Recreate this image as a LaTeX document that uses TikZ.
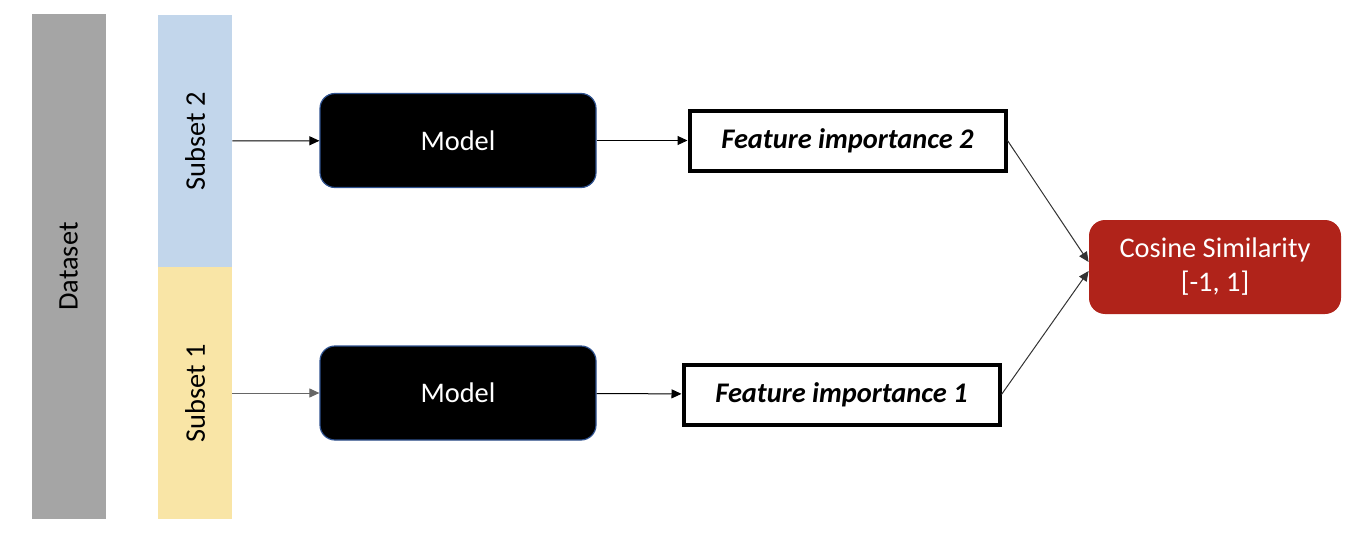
\documentclass[tikz,border=0pt]{standalone}
\usepackage{fontspec}
\setmainfont{Carlito}
\usepackage{graphicx}
\usetikzlibrary{arrows.meta}
\definecolor{datagray}{HTML}{A5A5A5}
\definecolor{subblue}{HTML}{C2D6EB}
\definecolor{subyellow}{HTML}{F9E5A6}
\definecolor{modelblue}{HTML}{2F528F}
\definecolor{cosred}{HTML}{B0231A}
\begin{document}
\begin{tikzpicture}[x=0.5pt,y=-0.5pt]
		\begin{scope}[scale=1]
		
		\tikzstyle{mybar}=[rectangle,
		draw=none,
		inner sep=0pt,
		minimum width=37pt,
		font=\fontsize{14.2}{17}\selectfont
		]
		\tikzstyle{mymodel}=[rectangle,
		rounded corners=7.5pt,
		draw=modelblue,
		line width=0.6pt,
		fill=black,
		text=white,
		minimum width=138pt,
		minimum height=47pt,
		font=\fontsize{14.2}{17}\selectfont
		]
		\tikzstyle{myfeature}=[rectangle,
		draw=black,
		line width=2pt,
		fill=white,
		minimum width=158pt,
		minimum height=30pt,
		font=\fontsize{14.2}{17}\selectfont\bfseries\itshape
		]
		\tikzstyle{mycosine}=[rectangle,
		rounded corners=8pt,
		fill=cosred,
		text=white,
		align=center,
		minimum width=126pt,
		minimum height=47pt,
		font=\fontsize{14.2}{17}\selectfont
		]
		\tikzstyle{myarrow}=[line width=0.5pt,
		-{Triangle[length=5pt,width=4.5pt]}
		]
		
		\useasboundingbox (0,0) rectangle (1372,546);
		
		\coordinate (pd) at (68.5, 266.5);
		\coordinate (ps2) at (195, 141);
		\coordinate (ps1) at (195, 393);
		
		\coordinate (pm2) at (458, 140.5);
		\coordinate (pm1) at (458, 393);
		
		\coordinate (pf2) at (847.5, 140.5);
		\coordinate (pf1) at (841.5, 394.5);
		
		\coordinate (pc) at (1215, 267);
		
		\node[mybar, fill=datagray, minimum height=252.5pt] (data) at (pd) {\rotatebox{90}{Dataset}};
		\node[mybar, fill=subblue, minimum height=126pt] (sub2) at (ps2) {\rotatebox{90}{Subset 2}};
		\node[mybar, fill=subyellow, minimum height=126pt] (sub1) at (ps1) {\rotatebox{90}{Subset 1}};
		
		\node[mymodel] (model2) at (pm2) {Model};
		\node[mymodel] (model1) at (pm1) {Model};
		
		\node[myfeature] (feat2) at (pf2) {Feature importance 2};
		\node[myfeature] (feat1) at (pf1) {Feature importance 1};
		
		\node[mycosine] (cos) at (pc) {Cosine Similarity\\{}[-1, 1]};
		
		\draw[myarrow] (sub2) -- (model2);
		\draw[myarrow, draw=black!60] (sub1) -- (model1);
		\draw[myarrow] (model2) -- (feat2);
		\draw[myarrow] (model1) -- (feat1);
		\draw[myarrow, draw=black!80] (feat2.east) -- ([yshift=2.5pt]cos.west);
		\draw[myarrow, draw=black!80] (feat1.east) -- ([yshift=-2pt]cos.west);
		
		\end{scope}
\end{tikzpicture}
\end{document}
